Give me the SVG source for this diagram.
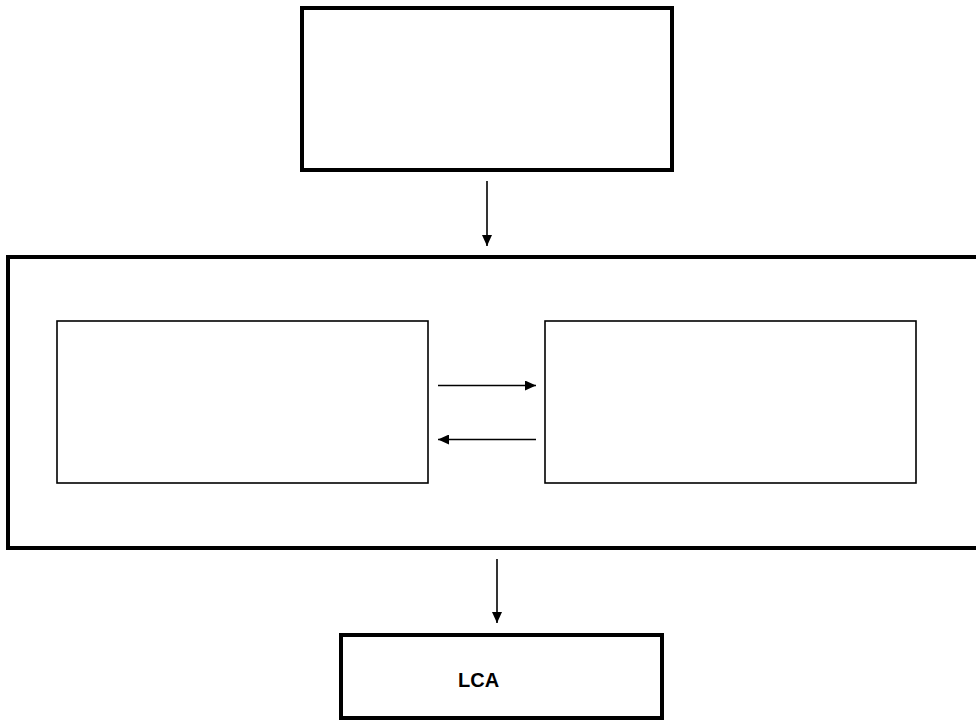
<svg xmlns="http://www.w3.org/2000/svg" width="976" height="722" viewBox="0 0 976 722">
<style>
.thick{fill:#fff;stroke:#000;stroke-width:4}
.thin{fill:#fff;stroke:#000;stroke-width:1.6}
.conn{stroke:#000;stroke-width:1.6;fill:none}
.lbl{font-family:"Liberation Sans",Arial,sans-serif;font-weight:bold;font-size:20px;fill:#000}
</style>
<defs>
<marker id="ah" viewBox="0 0 11 10" refX="11" refY="5" markerWidth="11" markerHeight="10" markerUnits="userSpaceOnUse" orient="auto">
<path d="M0,0 L11,5 L0,10 z" fill="#000"/>
</marker>
</defs>
<rect width="976" height="722" fill="#fff"/>
<g id="top-box"><rect class="thick" x="302" y="8" width="370" height="162"/></g>
<g id="outer-box"><path class="thick" d="M980,257 L8,257 L8,548 L980,548"/></g>
<g id="left-box"><rect class="thin" x="57" y="321" width="371" height="162"/></g>
<g id="right-box"><rect class="thin" x="545" y="321" width="371" height="162"/></g>
<g id="lca-box"><rect class="thick" x="341" y="635" width="321" height="83"/><text class="lbl" x="458" y="687">LCA</text></g>
<g id="connectors">
<line class="conn" x1="487" y1="181" x2="487" y2="246" marker-end="url(#ah)"/>
<line class="conn" x1="438" y1="385.5" x2="536" y2="385.5" marker-end="url(#ah)"/>
<line class="conn" x1="536" y1="439.5" x2="438" y2="439.5" marker-end="url(#ah)"/>
<line class="conn" x1="497" y1="559" x2="497" y2="623" marker-end="url(#ah)"/>
</g>
</svg>
